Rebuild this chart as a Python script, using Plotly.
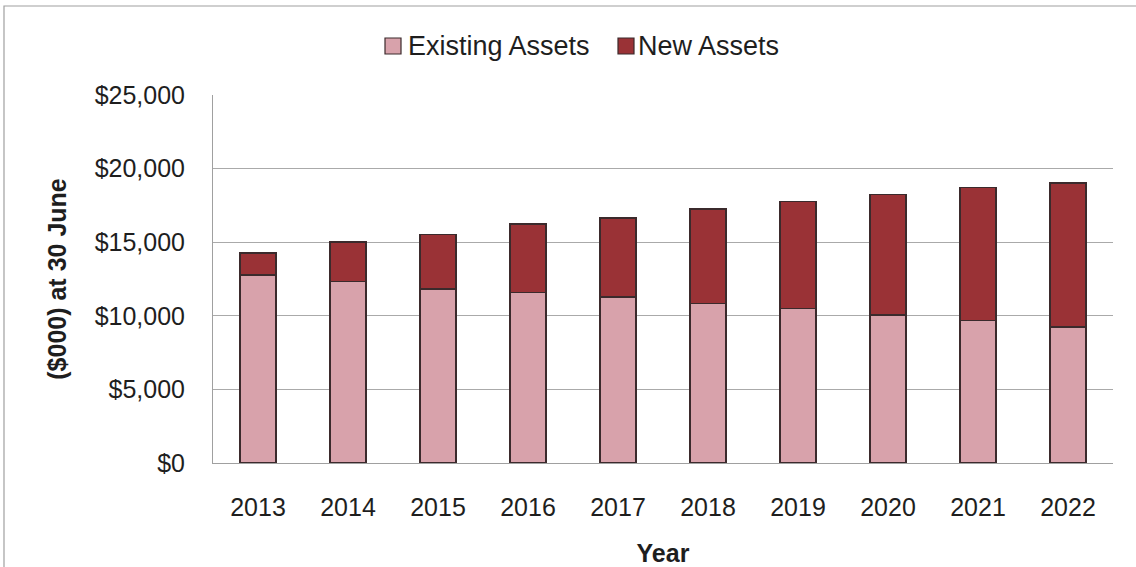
import plotly.graph_objects as go

years = ["2013", "2014", "2015", "2016", "2017", "2018", "2019", "2020", "2021", "2022"]
existing_assets = [12770, 12320, 11830, 11580, 11280, 10850, 10490, 10060, 9680, 9250]
new_assets = [1480, 2690, 3710, 4660, 5380, 6400, 7260, 8190, 9020, 9770]
y_ticks = [0, 5000, 10000, 15000, 20000, 25000]
y_tick_labels = ["$0", "$5,000", "$10,000", "$15,000", "$20,000", "$25,000"]
series_names = ["Existing Assets", "New Assets"]
series_colors = ["#d8a2ab", "#9a3236"]

FONT = "Liberation Sans, Arial, sans-serif"
TEXT = "#1e1e1e"
EDGE = "#3b2a2c"

# plot-area geometry in pixels, used to place the hand-built legend and frame
W, H = 1136, 567
L, R, T, B = 213, 23, 95, 104
PW, PH = W - L - R, H - T - B


def px_x(x):
    return (x - L) / PW


def px_y(y):
    return (H - B - y) / PH


fig = go.Figure()
for name, vals, col in zip(series_names, [existing_assets, new_assets], series_colors):
    fig.add_trace(go.Bar(
        x=years, y=vals, name=name,
        marker=dict(color=col, line=dict(color=EDGE, width=1.5)),
    ))

# legend: swatch + label pairs across the top
legend_items = [(385, 406), (618, 636)]
shapes = []
annotations = []
for (sx, tx), name, col in zip(legend_items, series_names, series_colors):
    shapes.append(dict(
        type="rect", xref="paper", yref="paper",
        x0=px_x(sx), x1=px_x(sx + 16), y0=px_y(54), y1=px_y(38),
        fillcolor=col, line=dict(color=EDGE, width=1.2),
    ))
    annotations.append(dict(
        x=px_x(tx), y=px_y(46), xref="paper", yref="paper",
        xanchor="left", yanchor="middle", showarrow=False,
        text=name, font=dict(family=FONT, size=27, color=TEXT),
    ))

# outer chart frame
shapes.append(dict(
    type="rect", xref="paper", yref="paper",
    x0=px_x(4), x1=px_x(1160), y0=px_y(590), y1=px_y(6),
    line=dict(color="#a0a0a0", width=1.2),
    fillcolor="rgba(0,0,0,0)", layer="below",
))

fig.update_layout(
    barmode="stack",
    bargap=0.6,
    width=W, height=H,
    margin=dict(l=L, r=R, t=T, b=B),
    paper_bgcolor="white",
    plot_bgcolor="white",
    font=dict(family=FONT, size=25, color=TEXT),
    showlegend=False,
    xaxis=dict(
        automargin=False,
        showgrid=False,
        showline=True, linecolor="#a0a0a0", linewidth=1,
        ticks="", ticklabelstandoff=22,
        tickfont=dict(family=FONT, size=25, color=TEXT),
        title=dict(text="<b>Year</b>", font=dict(family=FONT, size=25, color=TEXT), standoff=24),
    ),
    yaxis=dict(
        automargin=False,
        range=[0, 25000],
        tickvals=y_ticks, ticktext=y_tick_labels,
        showgrid=True, gridcolor="#aaaaaa", gridwidth=1,
        showline=True, linecolor="#a0a0a0", linewidth=1,
        ticks="", ticklabelstandoff=22,
        zeroline=False,
        tickfont=dict(family=FONT, size=25, color=TEXT),
        title=dict(text="<b>($000) at 30 June</b>", font=dict(family=FONT, size=25, color=TEXT), standoff=20),
    ),
    shapes=shapes,
    annotations=annotations,
)

fig.write_html("out.html")
